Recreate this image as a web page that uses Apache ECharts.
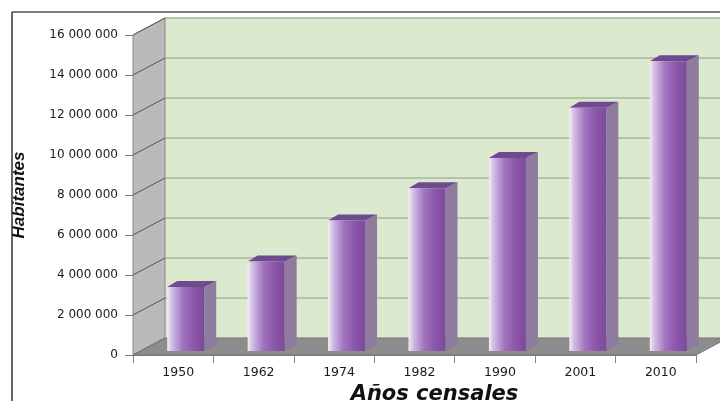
<!DOCTYPE html>
<html>
<head>
<meta charset="utf-8">
<title>Población por año censal</title>
<script src="https://cdn.jsdelivr.net/npm/echarts@6/dist/echarts.min.js"></script>
<style>
  html, body { margin: 0; padding: 0; background: #ffffff; }
  #chart { width: 720px; height: 401px; }
</style>
</head>
<body>
<div id="chart"></div>
<script>
// Census years and population counts
const censusYears = ['1950', '1962', '1974', '1982', '1990', '2001', '2010'];
const population = [3202757, 4476007, 6521710, 8138974, 9648189, 12156608, 14483499];
// Value axis ticks
const yTicks = [0, 2000000, 4000000, 6000000, 8000000, 10000000, 12000000, 14000000, 16000000];

// Depth of the pseudo-3D box (pixels)
const DEPTH_X = 32, DEPTH_Y = -17;
// Bar depth placement and thickness
const BAR_SHIFT_Y = -4, BAR_SIDE_X = 12, BAR_SIDE_Y = -6, BAR_W = 37;

const chart = echarts.init(document.getElementById('chart'), null, { renderer: 'canvas' });

function formatThousands(v) {
  return String(v).replace(/\B(?=(\d{3})+(?!\d))/g, ' ');
}

// Walls, floor and back gridlines of the 3D box
function renderBox(params, api) {
  const catW = api.size([1, 0])[0];
  const x0 = api.coord([0, 0])[0] - catW / 2;
  const x1 = api.coord([censusYears.length - 1, 0])[0] + catW / 2;
  const yTop = api.coord([0, yTicks[yTicks.length - 1]])[1];
  const yBase = api.coord([0, 0])[1];
  const children = [];
  // back wall
  children.push({
    type: 'rect',
    shape: { x: x0 + DEPTH_X, y: yTop + DEPTH_Y, width: x1 - x0 + 40, height: yBase - yTop },
    style: { fill: '#dbe9cf', stroke: '#c9d6bf', lineWidth: 1 }
  });
  // back gridlines
  yTicks.forEach(function (v) {
    if (v === 0) return;
    const y = api.coord([0, v])[1] + DEPTH_Y;
    children.push({
      type: 'line',
      shape: { x1: x0 + DEPTH_X, y1: y, x2: x1 + DEPTH_X + 40, y2: y },
      style: { stroke: '#8e9c8a', lineWidth: 1 }
    });
  });
  // left wall
  children.push({
    type: 'polygon',
    shape: { points: [[x0, yTop], [x0 + DEPTH_X, yTop + DEPTH_Y], [x0 + DEPTH_X, yBase + DEPTH_Y], [x0, yBase]] },
    style: { fill: '#bababa', stroke: '#8a8a8a', lineWidth: 1 }
  });
  // left wall tick lines
  yTicks.forEach(function (v) {
    const y = api.coord([0, v])[1];
    children.push({
      type: 'line',
      shape: { x1: x0, y1: y, x2: x0 + DEPTH_X, y2: y + DEPTH_Y },
      style: { stroke: '#555555', lineWidth: 1 }
    });
  });
  // floor
  children.push({
    type: 'polygon',
    shape: { points: [[x0, yBase], [x1, yBase], [x1 + DEPTH_X, yBase + DEPTH_Y], [x0 + DEPTH_X, yBase + DEPTH_Y]] },
    style: { fill: '#8d8d8d', stroke: '#777777', lineWidth: 1 }
  });
  return { type: 'group', children: children };
}

// One 3D column: front face, side face and top face
function renderBar(params, api) {
  const idx = api.value(0);
  const val = api.value(1);
  const top = api.coord([idx, val]);
  const base = api.coord([idx, 0]);
  const left = top[0] - 6;
  const right = left + BAR_W;
  const yT = top[1] + BAR_SHIFT_Y;
  const yB = base[1] + BAR_SHIFT_Y;
  return {
    type: 'group',
    children: [
      {
        type: 'polygon',
        shape: { points: [[right, yT], [right + BAR_SIDE_X, yT + BAR_SIDE_Y], [right + BAR_SIDE_X, yB + BAR_SIDE_Y], [right, yB]] },
        style: { fill: '#8e7b9e' }
      },
      {
        type: 'polygon',
        shape: { points: [[left, yT], [left + BAR_SIDE_X - 2, yT + BAR_SIDE_Y], [right + BAR_SIDE_X, yT + BAR_SIDE_Y], [right, yT]] },
        style: { fill: '#6f4a8f' }
      },
      {
        type: 'rect',
        shape: { x: left, y: yT, width: BAR_W, height: yB - yT },
        style: {
          fill: {
            type: 'linear', x: 0, y: 0, x2: 1, y2: 0,
            colorStops: [
              { offset: 0, color: '#f4eef8' },
              { offset: 0.12, color: '#d4bfe4' },
              { offset: 0.42, color: '#a174c0' },
              { offset: 0.72, color: '#8b56a9' },
              { offset: 1, color: '#7c4a9b' }
            ]
          }
        }
      }
    ]
  };
}

const option = {
  backgroundColor: '#ffffff',
  animation: false,
  grid: { left: 133, right: 24, top: 35, bottom: 46, containLabel: false, outerBoundsMode: 'none' },
  xAxis: {
    type: 'category',
    data: censusYears,
    boundaryGap: true,
    axisLine: { show: true, lineStyle: { color: '#7a7a7a', width: 1 } },
    axisTick: { show: true, length: 8, interval: 0, lineStyle: { color: '#888888' } },
    axisLabel: {
      margin: 11,
      padding: [0, 0, 0, 10],
      color: '#1a1a1a',
      fontFamily: 'DejaVu Sans',
      fontSize: 12.5
    },
    name: 'Años censales',
    nameLocation: 'middle',
    nameGap: 29,
    nameTextStyle: {
      fontFamily: 'DejaVu Sans',
      fontWeight: 'bold',
      fontStyle: 'italic',
      fontSize: 21,
      color: '#111111',
      padding: [0, 0, 0, 40]
    }
  },
  yAxis: {
    type: 'value',
    min: 0,
    max: 16000000,
    interval: 2000000,
    splitLine: { show: false },
    axisLine: { show: false },
    axisTick: { show: true, length: 8, lineStyle: { color: '#777777' } },
    axisLabel: {
      margin: 15,
      color: '#1a1a1a',
      fontFamily: 'DejaVu Sans',
      fontSize: 12,
      formatter: formatThousands
    },
    name: 'Habitantes',
    nameLocation: 'middle',
    nameRotate: 90,
    nameGap: 105,
    nameTextStyle: {
      fontFamily: 'Liberation Sans',
      fontWeight: 'bold',
      fontStyle: 'italic',
      fontSize: 17,
      color: '#111111'
    }
  },
  series: [
    {
      type: 'custom',
      name: 'box',
      clip: false,
      silent: true,
      z: 1,
      renderItem: renderBox,
      data: [[0, 0]]
    },
    {
      type: 'custom',
      name: 'Habitantes',
      clip: false,
      z: 2,
      renderItem: renderBar,
      encode: { x: 0, y: 1 },
      data: population.map(function (v, i) { return [i, v]; })
    }
  ],
  graphic: [
    { type: 'line', shape: { x1: 12, y1: 12, x2: 720, y2: 12 }, style: { stroke: '#7a7a7a', lineWidth: 2 }, z: 100 },
    { type: 'line', shape: { x1: 12, y1: 12, x2: 12, y2: 401 }, style: { stroke: '#333333', lineWidth: 1.5 }, z: 100 }
  ]
};

chart.setOption(option);
</script>
</body>
</html>
